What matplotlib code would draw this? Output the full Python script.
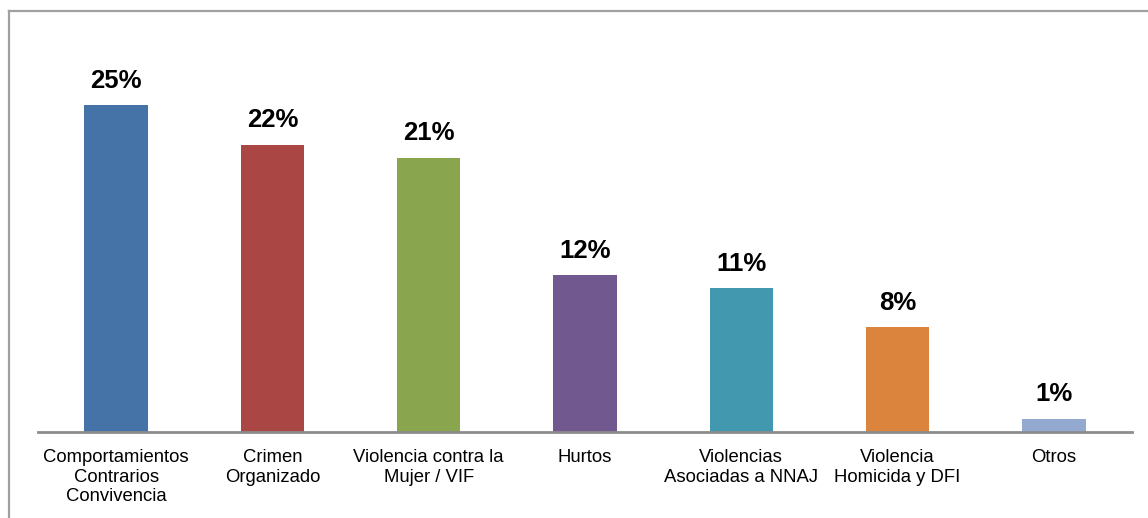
import matplotlib
matplotlib.use("Agg")
import matplotlib.pyplot as plt
from matplotlib.lines import Line2D

categories = ["Comportamientos\nContrarios\nConvivencia", "Crimen\nOrganizado",
              "Violencia contra la\nMujer / VIF", "Hurtos",
              "Violencias\nAsociadas a NNAJ", "Violencia\nHomicida y DFI", "Otros"]
values = [25, 22, 21, 12, 11, 8, 1]
colors = ["#4572A7", "#AA4643", "#89A54E", "#71588F", "#4198AF", "#DB843D", "#93A9CF"]

plt.rcParams["font.family"] = ["Liberation Sans", "DejaVu Sans"]

W, H = 1148, 518
fig = plt.figure(figsize=(W/100, H/100), dpi=100)

# axes placed in pixel terms
left, right, base, top = 38, 1132, 432, 40
ax = fig.add_axes([left/W, (H-base)/H, (right-left)/W, (base-top)/H])

x = range(len(values))
bars = ax.bar(x, values, width=0.405, color=colors)
ax.set_xlim(-0.5, len(values)-0.5)
ax.set_ylim(0, 30)

for b, v in zip(bars, values):
    ax.annotate(f"{v}%", (b.get_x()+b.get_width()/2, b.get_height()),
                xytext=(0, 9), textcoords="offset points",
                ha="center", va="bottom", fontsize=18.5, fontweight="bold")

ax.set_xticks(list(x))
ax.set_xticklabels(categories, fontsize=13.3, linespacing=1.22)
ax.tick_params(axis="x", length=0, pad=12)
ax.set_yticks([])
for s in ["left", "right", "top"]:
    ax.spines[s].set_visible(False)
ax.spines["bottom"].set_color("#8c8c8c")
ax.spines["bottom"].set_linewidth(2)

# outer frame (only top and left edges visible in the crop)
fig.add_artist(Line2D([9/W, 9/W], [0, 1-11/H], transform=fig.transFigure,
                      color="#a0a0a0", lw=1.6))
fig.add_artist(Line2D([9/W, 1], [1-11/H, 1-11/H], transform=fig.transFigure,
                      color="#a0a0a0", lw=1.6))

fig.savefig("out.png", dpi=100)
